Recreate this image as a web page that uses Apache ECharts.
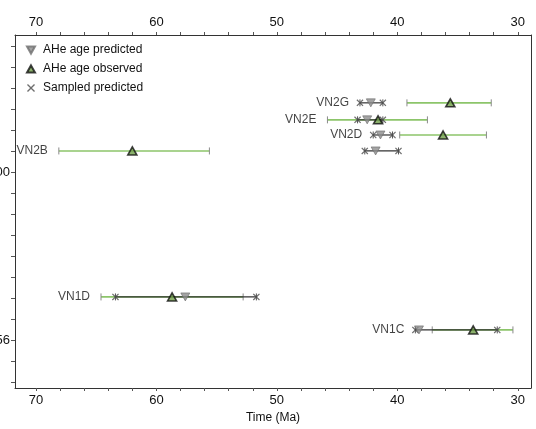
<!DOCTYPE html>
<html><head><meta charset="utf-8">
<script src="https://cdn.jsdelivr.net/npm/echarts@6/dist/echarts.min.js"></script>
<style>html,body{margin:0;padding:0;background:#fff;overflow:hidden}#c{width:536px;height:429px}</style>
</head><body><div id="c"></div>
<script>
// ---- data (ages in Ma) ----
const samples   = ['VN2G', 'VN2E', 'VN2D', 'VN2B', 'VN1D', 'VN1C'];
const rowY      = [13.29, 12.48, 11.76, 11.0, 4.05, 2.48];
const obsAge    = [35.6, 41.6, 36.2, 62.0, 58.7, 33.7];
const obsYoung  = [32.2, 37.5, 32.6, 55.6, 52.8, 30.4];
const obsOld    = [39.2, 45.8, 39.8, 68.1, 64.6, 37.1];
const predAge   = [42.2, 42.5, 41.4, 41.8, 57.6, 38.2];
const sampYoung = [41.2, 41.2, 40.4, 39.9, 51.7, 31.7];
const sampOld   = [43.1, 43.3, 42.0, 42.7, 63.4, 38.5];
const xTickLabels = [70, 60, 50, 40, 30];
const xMinorTicks = [30,32,34,36,38,40,42,44,46,48,50,52,54,56,58,60,62,64,66,68,70];
const yTicks = [0,1,2,3,4,5,6,7,8,9,10,11,12,13,14,15,16];
const yLabelValues = [10, 2];
const yLabelTexts  = ['100', '156'];

const FONT = "'Liberation Sans',Arial,sans-serif";
const TXT = '#111';
const XPATH = 'path://M0,1.2L1.2,0L5,3.8L8.8,0L10,1.2L6.2,5L10,8.8L8.8,10L5,6.2L1.2,10L0,8.8L3.8,5Z';
const DOWN = 'path://M0,0L10,0L5,9Z';
const UP = 'path://M5,0L10,9L0,9Z';

const obsRange = samples.map((s, i) => [obsYoung[i], obsOld[i], rowY[i]]);
const sampRange = samples.map((s, i) => [sampYoung[i], sampOld[i], rowY[i]]);
const sampPts = [];
samples.forEach((s, i) => { sampPts.push([sampYoung[i], rowY[i]]); sampPts.push([sampOld[i], rowY[i]]); });
const predPts = samples.map((s, i) => [predAge[i], rowY[i]]);
const obsPts = samples.map((s, i) => [obsAge[i], rowY[i]]);
const labelPts = samples.map((s, i) => ({value: [Math.max(obsOld[i], sampOld[i]), rowY[i]], name: s}));

function rangeRenderer(lineColor, lineWidth, capColor) {
  return function (params, api) {
    const y = api.value(2);
    const p1 = api.coord([api.value(0), y]);
    const p2 = api.coord([api.value(1), y]);
    return {type: 'group', children: [
      {type: 'line', shape: {x1: p1[0], y1: p1[1], x2: p2[0], y2: p2[1]}, style: {stroke: lineColor, lineWidth: lineWidth}},
      {type: 'line', shape: {x1: p1[0], y1: p1[1] - 3.5, x2: p1[0], y2: p1[1] + 3.5}, style: {stroke: capColor, lineWidth: 1}},
      {type: 'line', shape: {x1: p2[0], y1: p2[1] - 3.5, x2: p2[0], y2: p2[1] + 3.5}, style: {stroke: capColor, lineWidth: 1}}
    ]};
  };
}

const txt = (size) => ({color: TXT, fontSize: size, fontFamily: FONT});

const xBase = {
  type: 'value', inverse: true, min: 28.9, max: 71.74,
  axisLine: {show: true, onZero: false, lineStyle: {color: '#333', width: 1}},
  axisTick: {show: true, customValues: xMinorTicks, length: 3, lineStyle: {color: '#555'}},
  axisLabel: Object.assign({customValues: xTickLabels, margin: 6}, txt(13)),
  splitLine: {show: false}
};

const chart = echarts.init(document.getElementById('c'));
chart.setOption({
  animation: false,
  backgroundColor: '#fff',
  textStyle: {fontFamily: FONT},
  grid: {left: 15, right: 5, top: 35, bottom: 41, containLabel: false, outerBoundsMode: 'none'},
  legend: {
    orient: 'vertical', left: 21, top: 39, itemWidth: 8, itemHeight: 8, itemGap: 7,
    textStyle: Object.assign({padding: [0, 0, 0, 3]}, txt(12)),
    data: [
      {name: 'AHe age predicted', icon: DOWN},
      {name: 'AHe age observed', icon: UP},
      {name: 'Sampled predicted', icon: XPATH}
    ]
  },
  xAxis: [
    Object.assign({}, xBase, {position: 'bottom', name: 'Time (Ma)', nameLocation: 'middle', nameGap: 24,
      nameTextStyle: txt(12)}),
    Object.assign({}, xBase, {position: 'top'})
  ],
  yAxis: [
    {type: 'value', position: 'left', min: -0.286, max: 16.52,
     axisLine: {show: true, lineStyle: {color: '#333'}},
     axisTick: {show: true, customValues: yTicks, length: 4, lineStyle: {color: '#555'}},
     axisLabel: Object.assign({customValues: yLabelValues, margin: 5,
       formatter: v => yLabelTexts[yLabelValues.indexOf(Math.round(v))] || ''}, txt(13)),
     splitLine: {show: false}},
    {type: 'value', position: 'right', min: -0.286, max: 16.52,
     axisLine: {show: true, lineStyle: {color: '#333'}},
     axisTick: {show: false}, axisLabel: {show: false}, splitLine: {show: false}}
  ],
  series: [
    {type: 'custom', name: 'obsRange', data: obsRange, encode: {x: [0, 1], y: 2},
     renderItem: rangeRenderer('#8cc56a', 1.6, '#8a8a8a'), silent: true, z: 1},
    {type: 'custom', name: 'sampRange', data: sampRange, encode: {x: [0, 1], y: 2},
     renderItem: rangeRenderer('#333333', 1.2, '#555'), silent: true, z: 2},
    {type: 'scatter', name: 'Sampled predicted', data: sampPts, symbol: XPATH, symbolSize: 7,
     itemStyle: {color: '#4a4a4a'}, z: 3},
    {type: 'scatter', name: 'AHe age predicted', data: predPts, symbol: DOWN, symbolSize: [9, 8],
     itemStyle: {color: '#8c8c8c', borderColor: '#6e6e6e', borderWidth: 0.8}, z: 4},
    {type: 'scatter', name: 'AHe age observed', data: obsPts, symbol: UP, symbolSize: [9, 8],
     itemStyle: {color: '#6f9e48', borderColor: '#111', borderWidth: 1.6}, z: 5},
    {type: 'scatter', name: 'labels', data: labelPts, symbolSize: 0, silent: true,
     label: Object.assign({show: true, position: 'left', distance: 11, formatter: p => p.name}, txt(12)), z: 6}
  ]
});
</script></body></html>
